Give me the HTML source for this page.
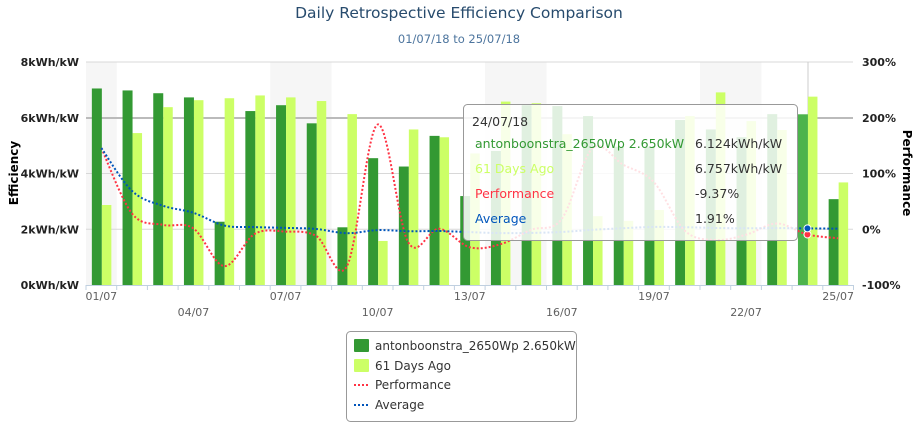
<!DOCTYPE html>
<html><head><meta charset="utf-8"><style>
html,body{margin:0;padding:0;background:#fff;}
svg{display:block;font-family:"DejaVu Sans","Liberation Sans",sans-serif;}
</style></head><body>
<svg id="c" width="919" height="424" viewBox="0 0 919 424" xmlns="http://www.w3.org/2000/svg"></svg>
<script>
var g=[7.05,6.98,6.88,6.73,2.27,6.24,6.45,5.80,2.07,4.55,4.25,5.35,3.19,4.81,6.45,6.42,6.06,4.96,4.96,5.92,5.58,5.30,6.13,6.124,3.08];
var l=[2.87,5.45,6.38,6.63,6.70,6.80,6.73,6.60,6.13,1.58,5.58,5.30,4.72,6.58,6.52,5.41,2.47,2.30,2.69,6.06,6.91,5.88,5.56,6.757,3.68];
var X0=86,W=30.7,Y0=285,H=223;
function cx(i){return X0+W*(i+0.5);}
function yv(v){return Y0-v/8*H;}
function yp(p){return Y0-(p+100)/400*H;}
var s='';
// bands
[[0,1],[6,8],[13,15],[20,22]].forEach(function(b){s+='<rect x="'+(X0+W*b[0])+'" y="62" width="'+(W*(b[1]-b[0]))+'" height="223" fill="#f6f6f6"/>';});
// grid
[62,118,173.5,229.25].forEach(function(y){s+='<line x1="86" x2="853" y1="'+y+'" y2="'+y+'" stroke="'+(y==118?'#bbb':'#d8d8d8')+'" stroke-width="'+(y==118?2:1)+'"/>';});
s+='<line x1="808" x2="808" y1="62" y2="285" stroke="#ccc"/>';
// bars
for(var i=0;i<25;i++){var c=cx(i);
s+='<rect x="'+(c-9.5)+'" y="'+yv(g[i])+'" width="10" height="'+(Y0-yv(g[i]))+'" fill="'+(i==23?'#4cb34c':'#339933')+'"/>';
s+='<rect x="'+(c+0.5)+'" y="'+yv(l[i])+'" width="9.5" height="'+(Y0-yv(l[i]))+'" fill="#ccff66"/>';}
// perf & avg
var P=[],A=[],sg=0,sl=0;
for(i=0;i<25;i++){P.push([cx(i),yp((g[i]/l[i]-1)*100)]);sg+=g[i];sl+=l[i];A.push([cx(i),yp((sg/sl-1)*100)]);}
function spline(pts){var d='M'+pts[0][0]+','+pts[0][1];var k=1.5;
for(var i=0;i<pts.length-1;i++){var p0=pts[i-1]||pts[i],p1=pts[i],p2=pts[i+1],p3=pts[i+2]||p2;
var c1x=p1[0]+(p2[0]-p0[0])/(2*k*2),c1y=p1[1]+(p2[1]-p0[1])/(2*k*2);
var c2x=p2[0]-(p3[0]-p1[0])/(2*k*2),c2y=p2[1]-(p3[1]-p1[1])/(2*k*2);
d+=' C'+c1x.toFixed(1)+','+c1y.toFixed(1)+' '+c2x.toFixed(1)+','+c2y.toFixed(1)+' '+p2[0].toFixed(1)+','+p2[1].toFixed(1);}return d;}
s+='<path d="'+spline(P)+'" fill="none" stroke="#ff3344" stroke-width="2" stroke-dasharray="2,2"/>';
s+='<path d="'+spline(A)+'" fill="none" stroke="#0055bb" stroke-width="2" stroke-dasharray="2,2"/>';
s+='<circle cx="'+P[23][0]+'" cy="'+P[23][1]+'" r="3.5" fill="#ff3344" stroke="#fff"/>';
s+='<circle cx="'+A[23][0]+'" cy="'+A[23][1]+'" r="3.5" fill="#0055bb" stroke="#fff"/>';
// x axis
s+='<line x1="86" x2="853" y1="285.5" y2="285.5" stroke="#c0d0e0"/>';
for(i=0;i<=25;i++){var x=X0+W*i;s+='<line x1="'+x+'" x2="'+x+'" y1="285" y2="290" stroke="#c0d0e0"/>';}
for(i=0;i<25;i+=3){var d=(i+1<10?'0':'')+(i+1)+'/07';var row=(i/3)%2==0?300:316;
s+='<text x="'+cx(i)+'" y="'+row+'" text-anchor="middle" font-size="11" fill="#606060">'+d+'</text>';}
// y labels
['0','2','4','6','8'].forEach(function(v,j){var y=Y0-j*H/4+4;
s+='<text x="79" y="'+y+'" text-anchor="end" font-size="11" font-weight="bold" fill="#222">'+v+'kWh/kW</text>';});
['-100%','0%','100%','200%','300%'].forEach(function(v,j){var y=Y0-j*H/4+4;
s+='<text x="862" y="'+y+'" font-size="11" font-weight="bold" fill="#222">'+v+'</text>';});
s+='<text transform="translate(18,173) rotate(-90)" text-anchor="middle" font-size="12" font-weight="bold" fill="#000">Efficiency</text>';
s+='<text transform="translate(903,173) rotate(90)" text-anchor="middle" font-size="12" font-weight="bold" fill="#000">Performance</text>';
// title
s+='<text x="459" y="18" text-anchor="middle" font-size="15.5" fill="#274b6d">Daily Retrospective Efficiency Comparison</text>';
s+='<text x="459" y="43" text-anchor="middle" font-size="11.5" fill="#4d759e">01/07/18 to 25/07/18</text>';
// tooltip
s+='<rect x="463.5" y="104.5" width="334" height="136" rx="4" fill="rgba(255,255,255,0.85)" stroke="#999"/>';
s+='<text x="472" y="126" font-size="12.5" fill="#333">24/07/18</text>';
var tr=[['antonboonstra_2650Wp 2.650kW','#339933','6.124kWh/kW'],['61 Days Ago','#ccff66','6.757kWh/kW'],['Performance','#ff3344','-9.37%'],['Average','#0055bb','1.91%']];
tr.forEach(function(r,j){var y=148+j*25;s+='<text x="475" y="'+y+'" font-size="12.5" fill="'+r[1]+'">'+r[0]+'</text><text x="695" y="'+y+'" font-size="12.5" fill="#333">'+r[2]+'</text>';});
// legend
s+='<rect x="346.5" y="331.5" width="230" height="90" rx="4" fill="#fff" stroke="#999"/>';
s+='<rect x="354" y="339" width="15" height="13" rx="1" fill="#339933"/><text x="375" y="350" font-size="12" fill="#333">antonboonstra_2650Wp 2.650kW</text>';
s+='<rect x="354" y="359" width="15" height="13" rx="1" fill="#ccff66"/><text x="375" y="370" font-size="12" fill="#333">61 Days Ago</text>';
s+='<line x1="354" x2="370" y1="385" y2="385" stroke="#ff3344" stroke-width="2" stroke-dasharray="2,2"/><text x="375" y="389" font-size="12" fill="#333">Performance</text>';
s+='<line x1="354" x2="370" y1="405" y2="405" stroke="#0055bb" stroke-width="2" stroke-dasharray="2,2"/><text x="375" y="409" font-size="12" fill="#333">Average</text>';
document.getElementById('c').innerHTML=s;
</script>
</body></html>
